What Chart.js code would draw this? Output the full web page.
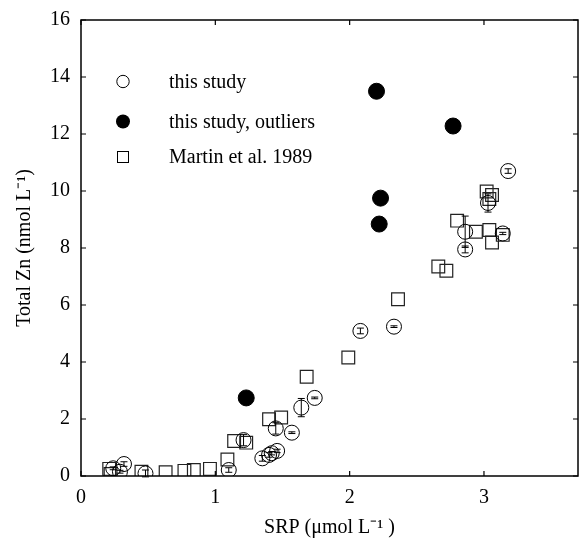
<!DOCTYPE html>
<html>
<head>
<meta charset="utf-8">
<script src="https://cdn.jsdelivr.net/npm/chart.js@4/dist/chart.umd.min.js"></script>
<style>
  html, body { margin: 0; padding: 0; background: #fff; }
  #wrap { width: 582px; height: 541px; }
</style>
</head>
<body>
<div id="wrap"><canvas id="zn-chart" width="582" height="541"></canvas></div>
<script>
// this study (with error bars on Total Zn)
var studySrp = [0.24, 0.29, 0.32, 0.48, 1.10, 1.21, 1.35, 1.40, 1.42, 1.46, 1.45, 1.57, 1.64, 1.74, 2.08, 2.33, 2.86, 2.86, 3.03, 3.14, 3.18];
var studyZn  = [0.27, 0.15, 0.42, 0.09, 0.21, 1.26, 0.62, 0.74, 0.80, 0.88, 1.67, 1.52, 2.40, 2.74, 5.09, 5.24, 8.57, 7.95, 9.58, 8.51, 10.70];
var studyErr = [0.05, 0.05, 0.08, 0.12, 0.08, 0.20, 0.10, 0.08, 0.06, 0.06, 0.20, 0.03, 0.32, 0.03, 0.10, 0.03, 0.55, 0.12, 0.32, 0.04, 0.08];

// this study, outliers
var outlierSrp = [1.23, 2.20, 2.23, 2.22, 2.77];
var outlierZn  = [2.74, 13.50, 9.75, 8.84, 12.28];

// Martin et al. 1989
var martinSrp = [0.21, 0.22, 0.45, 0.63, 0.77, 0.84, 0.96, 1.09, 1.14, 1.23, 1.40, 1.49, 1.68, 1.99, 2.36, 2.66, 2.72, 2.80, 2.94, 3.02, 3.06, 3.04, 3.04, 3.06, 3.14];
var martinZn  = [0.25, 0.07, 0.15, 0.13, 0.18, 0.21, 0.25, 0.58, 1.23, 1.17, 1.99, 2.05, 3.48, 4.16, 6.20, 7.35, 7.20, 8.96, 8.57, 9.98, 9.86, 9.72, 8.63, 8.19, 8.46];

var xTicks = [0, 1, 2, 3];
var yTicks = [0, 2, 4, 6, 8, 10, 12, 14, 16];

function toPoints(xs, ys) {
    return xs.map(function (x, i) { return { x: x, y: ys[i] }; });
}

var serif = 'Liberation Serif, Times New Roman, serif';
Chart.defaults.font.family = serif;
Chart.defaults.font.size = 20;
Chart.defaults.color = '#000';

// frame with inward ticks on all four sides
var framePlugin = {
    id: 'frame',
    afterDraw: function (chart) {
        var ctx = chart.ctx, a = chart.chartArea;
        var xs = chart.scales.x, ys = chart.scales.y;
        ctx.save();
        ctx.strokeStyle = '#000';
        ctx.lineWidth = 1.5;
        ctx.strokeRect(a.left, a.top, a.right - a.left, a.bottom - a.top);
        ctx.lineWidth = 1.2;
        ctx.beginPath();
        xTicks.forEach(function (v) {
            var px = xs.getPixelForValue(v);
            ctx.moveTo(px, a.bottom); ctx.lineTo(px, a.bottom - 5);
            ctx.moveTo(px, a.top); ctx.lineTo(px, a.top + 5);
        });
        yTicks.forEach(function (v) {
            var py = ys.getPixelForValue(v);
            ctx.moveTo(a.left, py); ctx.lineTo(a.left + 5, py);
            ctx.moveTo(a.right, py); ctx.lineTo(a.right - 5, py);
        });
        ctx.stroke();

        // legend inside the plot
        var rows = [81.5, 121.5, 157];
        var mx = 123, tx = 169;
        ctx.lineWidth = 1;
        ctx.beginPath(); ctx.arc(mx, rows[0], 6.2, 0, Math.PI * 2); ctx.stroke();
        ctx.fillStyle = '#000';
        ctx.beginPath(); ctx.arc(mx, rows[1], 7, 0, Math.PI * 2); ctx.fill();
        ctx.strokeRect(mx - 5.5, rows[2] - 5.5, 11, 11);
        ctx.font = '20px ' + serif;
        ctx.textBaseline = 'middle';
        ctx.textAlign = 'left';
        chart.data.datasets.forEach(function (ds, i) {
            ctx.fillText(ds.label, tx, rows[i] + 1);
        });
        ctx.restore();
    }
};

// vertical error bars for "this study"
var errorBarPlugin = {
    id: 'errorBars',
    afterDatasetsDraw: function (chart) {
        var ctx = chart.ctx;
        var xs = chart.scales.x, ys = chart.scales.y;
        ctx.save();
        ctx.strokeStyle = '#000';
        ctx.lineWidth = 1;
        ctx.beginPath();
        studySrp.forEach(function (x, i) {
            var px = xs.getPixelForValue(x);
            var top = ys.getPixelForValue(studyZn[i] + studyErr[i]);
            var bot = ys.getPixelForValue(studyZn[i] - studyErr[i]);
            ctx.moveTo(px, top); ctx.lineTo(px, bot);
            ctx.moveTo(px - 3.5, top); ctx.lineTo(px + 3.5, top);
            ctx.moveTo(px - 3.5, bot); ctx.lineTo(px + 3.5, bot);
        });
        ctx.stroke();
        ctx.restore();
    }
};

new Chart(document.getElementById('zn-chart'), {
    type: 'scatter',
    data: {
        datasets: [
            {
                label: 'this study',
                data: toPoints(studySrp, studyZn),
                pointStyle: 'circle',
                pointRadius: 7.5,
                borderColor: '#000',
                borderWidth: 1,
                backgroundColor: 'rgba(0,0,0,0)'
            },
            {
                label: 'this study, outliers',
                data: toPoints(outlierSrp, outlierZn),
                pointStyle: 'circle',
                pointRadius: 8,
                borderColor: '#000',
                borderWidth: 1,
                backgroundColor: '#000'
            },
            {
                label: 'Martin et al. 1989',
                data: toPoints(martinSrp, martinZn),
                pointStyle: 'rect',
                pointRadius: 9,
                borderColor: '#222',
                borderWidth: 1.2,
                backgroundColor: 'rgba(0,0,0,0)'
            }
        ]
    },
    options: {
        responsive: false,
        animation: false,
        layout: { autoPadding: false, padding: { top: 20, right: 4, left: 0, bottom: 0 } },
        plugins: {
            legend: { display: false },
            tooltip: { enabled: false }
        },
        scales: {
            x: {
                type: 'linear',
                min: 0,
                max: 3.7,
                afterFit: function (s) {
                    s.height = 65;
                    s.paddingLeft = 0; s.paddingRight = 0;
                },
                grid: { display: false, drawTicks: false },
                border: { display: false },
                ticks: { stepSize: 1, includeBounds: false, padding: 10, maxRotation: 0 },
                title: { display: true, text: 'SRP (μmol L⁻¹ )', padding: { top: 0, bottom: 1 } }
            },
            y: {
                min: 0,
                max: 16,
                afterFit: function (s) {
                    s.width = 81;
                    s.paddingTop = 0; s.paddingBottom = 0;
                },
                grid: { display: false, drawTicks: false },
                border: { display: false },
                ticks: { stepSize: 2, padding: 11 },
                title: { display: true, text: 'Total Zn (nmol L⁻¹)', padding: { top: 13, bottom: 0 } }
            }
        }
    },
    plugins: [errorBarPlugin, framePlugin]
});
</script>
</body>
</html>
